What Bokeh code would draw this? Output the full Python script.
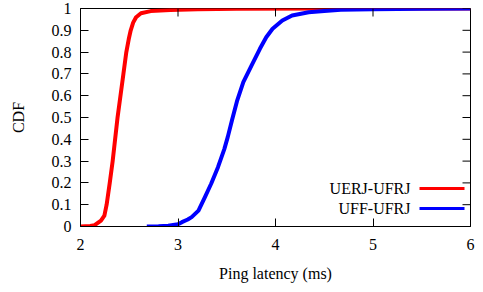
import math
from bokeh.plotting import figure
from bokeh.models import FixedTicker, Label, BoxAnnotation, Range1d
from bokeh.embed import file_html
from bokeh.resources import INLINE

# UERJ-UFRJ CDF
red_x = [2.00, 2.10, 2.145, 2.21, 2.245, 2.268, 2.30, 2.33, 2.355, 2.38, 2.41, 2.44,
         2.47, 2.495, 2.515, 2.54, 2.57, 2.62, 2.72, 2.92, 3.2, 3.6, 4.5, 6.0]
red_y = [0.0, 0.002, 0.006, 0.027, 0.05, 0.1, 0.2, 0.3, 0.4, 0.5, 0.6, 0.7,
         0.8, 0.86, 0.9, 0.935, 0.96, 0.978, 0.988, 0.993, 0.997, 0.999, 1.0, 1.0]

# UFF-UFRJ CDF
blue_x = [2.68, 2.8, 2.9, 3.0, 3.04, 3.1, 3.14, 3.21, 3.275, 3.34, 3.41, 3.475, 3.51,
          3.555, 3.605, 3.67, 3.755, 3.84, 3.905, 3.97, 4.07, 4.17, 4.34, 4.5, 4.67,
          5.0, 5.5, 6.0]
blue_y = [0.0, 0.001, 0.003, 0.01, 0.02, 0.032, 0.043, 0.073, 0.134, 0.196, 0.272, 0.355,
          0.41, 0.49, 0.575, 0.662, 0.739, 0.815, 0.868, 0.907, 0.945, 0.968, 0.983,
          0.989, 0.994, 0.997, 0.999, 1.0]

x_ticks = [2, 3, 4, 5, 6]
y_ticks = [0, 0.1, 0.2, 0.3, 0.4, 0.5, 0.6, 0.7, 0.8, 0.9, 1]
y_tick_labels = {0: "0", 0.1: "0.1", 0.2: "0.2", 0.3: "0.3", 0.4: "0.4", 0.5: "0.5",
                 0.6: "0.6", 0.7: "0.7", 0.8: "0.8", 0.9: "0.9", 1: "1"}
series_names = ["UERJ-UFRJ", "UFF-UFRJ"]
series_colors = ["#ff0000", "#0000ff"]

FONT = "Liberation Serif"

p = figure(width=475, height=284, output_backend="svg", toolbar_location=None,
           x_range=Range1d(2, 6), y_range=Range1d(0, 1),
           min_border_left=80, min_border_right=5, min_border_top=8, min_border_bottom=58,
           x_axis_label="Ping latency (ms)", y_axis_label="CDF")
p.grid.visible = False
p.outline_line_color = "black"
p.outline_line_width = 1
p.background_fill_color = "white"
p.border_fill_color = "white"

p.line(red_x, red_y, line_color=series_colors[0], line_width=4, line_join="round")
p.line(blue_x, blue_y, line_color=series_colors[1], line_width=4, line_join="round")

# mirrored ticks on the top and right edges
p.ray(x=x_ticks, y=[1] * len(x_ticks), length=8, length_units="screen",
      angle=-math.pi / 2, line_color="black", line_width=1)
p.ray(x=[6] * len(y_ticks), y=y_ticks, length=8, length_units="screen",
      angle=math.pi, line_color="black", line_width=1)

def style_axis(ax, ticks):
    ax.ticker = FixedTicker(ticks=ticks)
    ax.major_tick_in = 8
    ax.major_tick_out = 0
    ax.minor_tick_line_color = None
    ax.major_tick_line_color = "black"
    ax.axis_line_color = "black"
    ax.axis_line_width = 1
    ax.major_label_text_font = FONT
    ax.major_label_text_color = "black"
    ax.major_label_text_font_size = "16px"
    ax.axis_label_text_font = FONT
    ax.axis_label_text_font_style = "normal"
    ax.axis_label_text_color = "black"
    ax.axis_label_text_font_size = "16px"

xa = p.xaxis[0]
style_axis(xa, x_ticks)
xa.major_label_standoff = 12
xa.axis_label_standoff = 12

ya = p.yaxis[0]
style_axis(ya, y_ticks)
ya.major_label_overrides = y_tick_labels
ya.major_label_standoff = 9
ya.axis_label_standoff = 22

# legend (key sample to the right of the text, like gnuplot)
for i, (name, col) in enumerate(zip(series_names, series_colors)):
    yy = 38 - 20 * i
    p.add_layout(Label(x=330, y=yy, x_units="screen", y_units="screen", text=name,
                       text_font=FONT, text_font_size="16px", text_align="right",
                       text_baseline="middle", text_color="black"))
    p.add_layout(BoxAnnotation(left=339, right=384, bottom=yy - 1.5, top=yy + 1.5,
                               left_units="screen", right_units="screen",
                               bottom_units="screen", top_units="screen",
                               fill_color=col, fill_alpha=1, line_color=None))

open("out.html", "w").write(file_html(p, INLINE))
